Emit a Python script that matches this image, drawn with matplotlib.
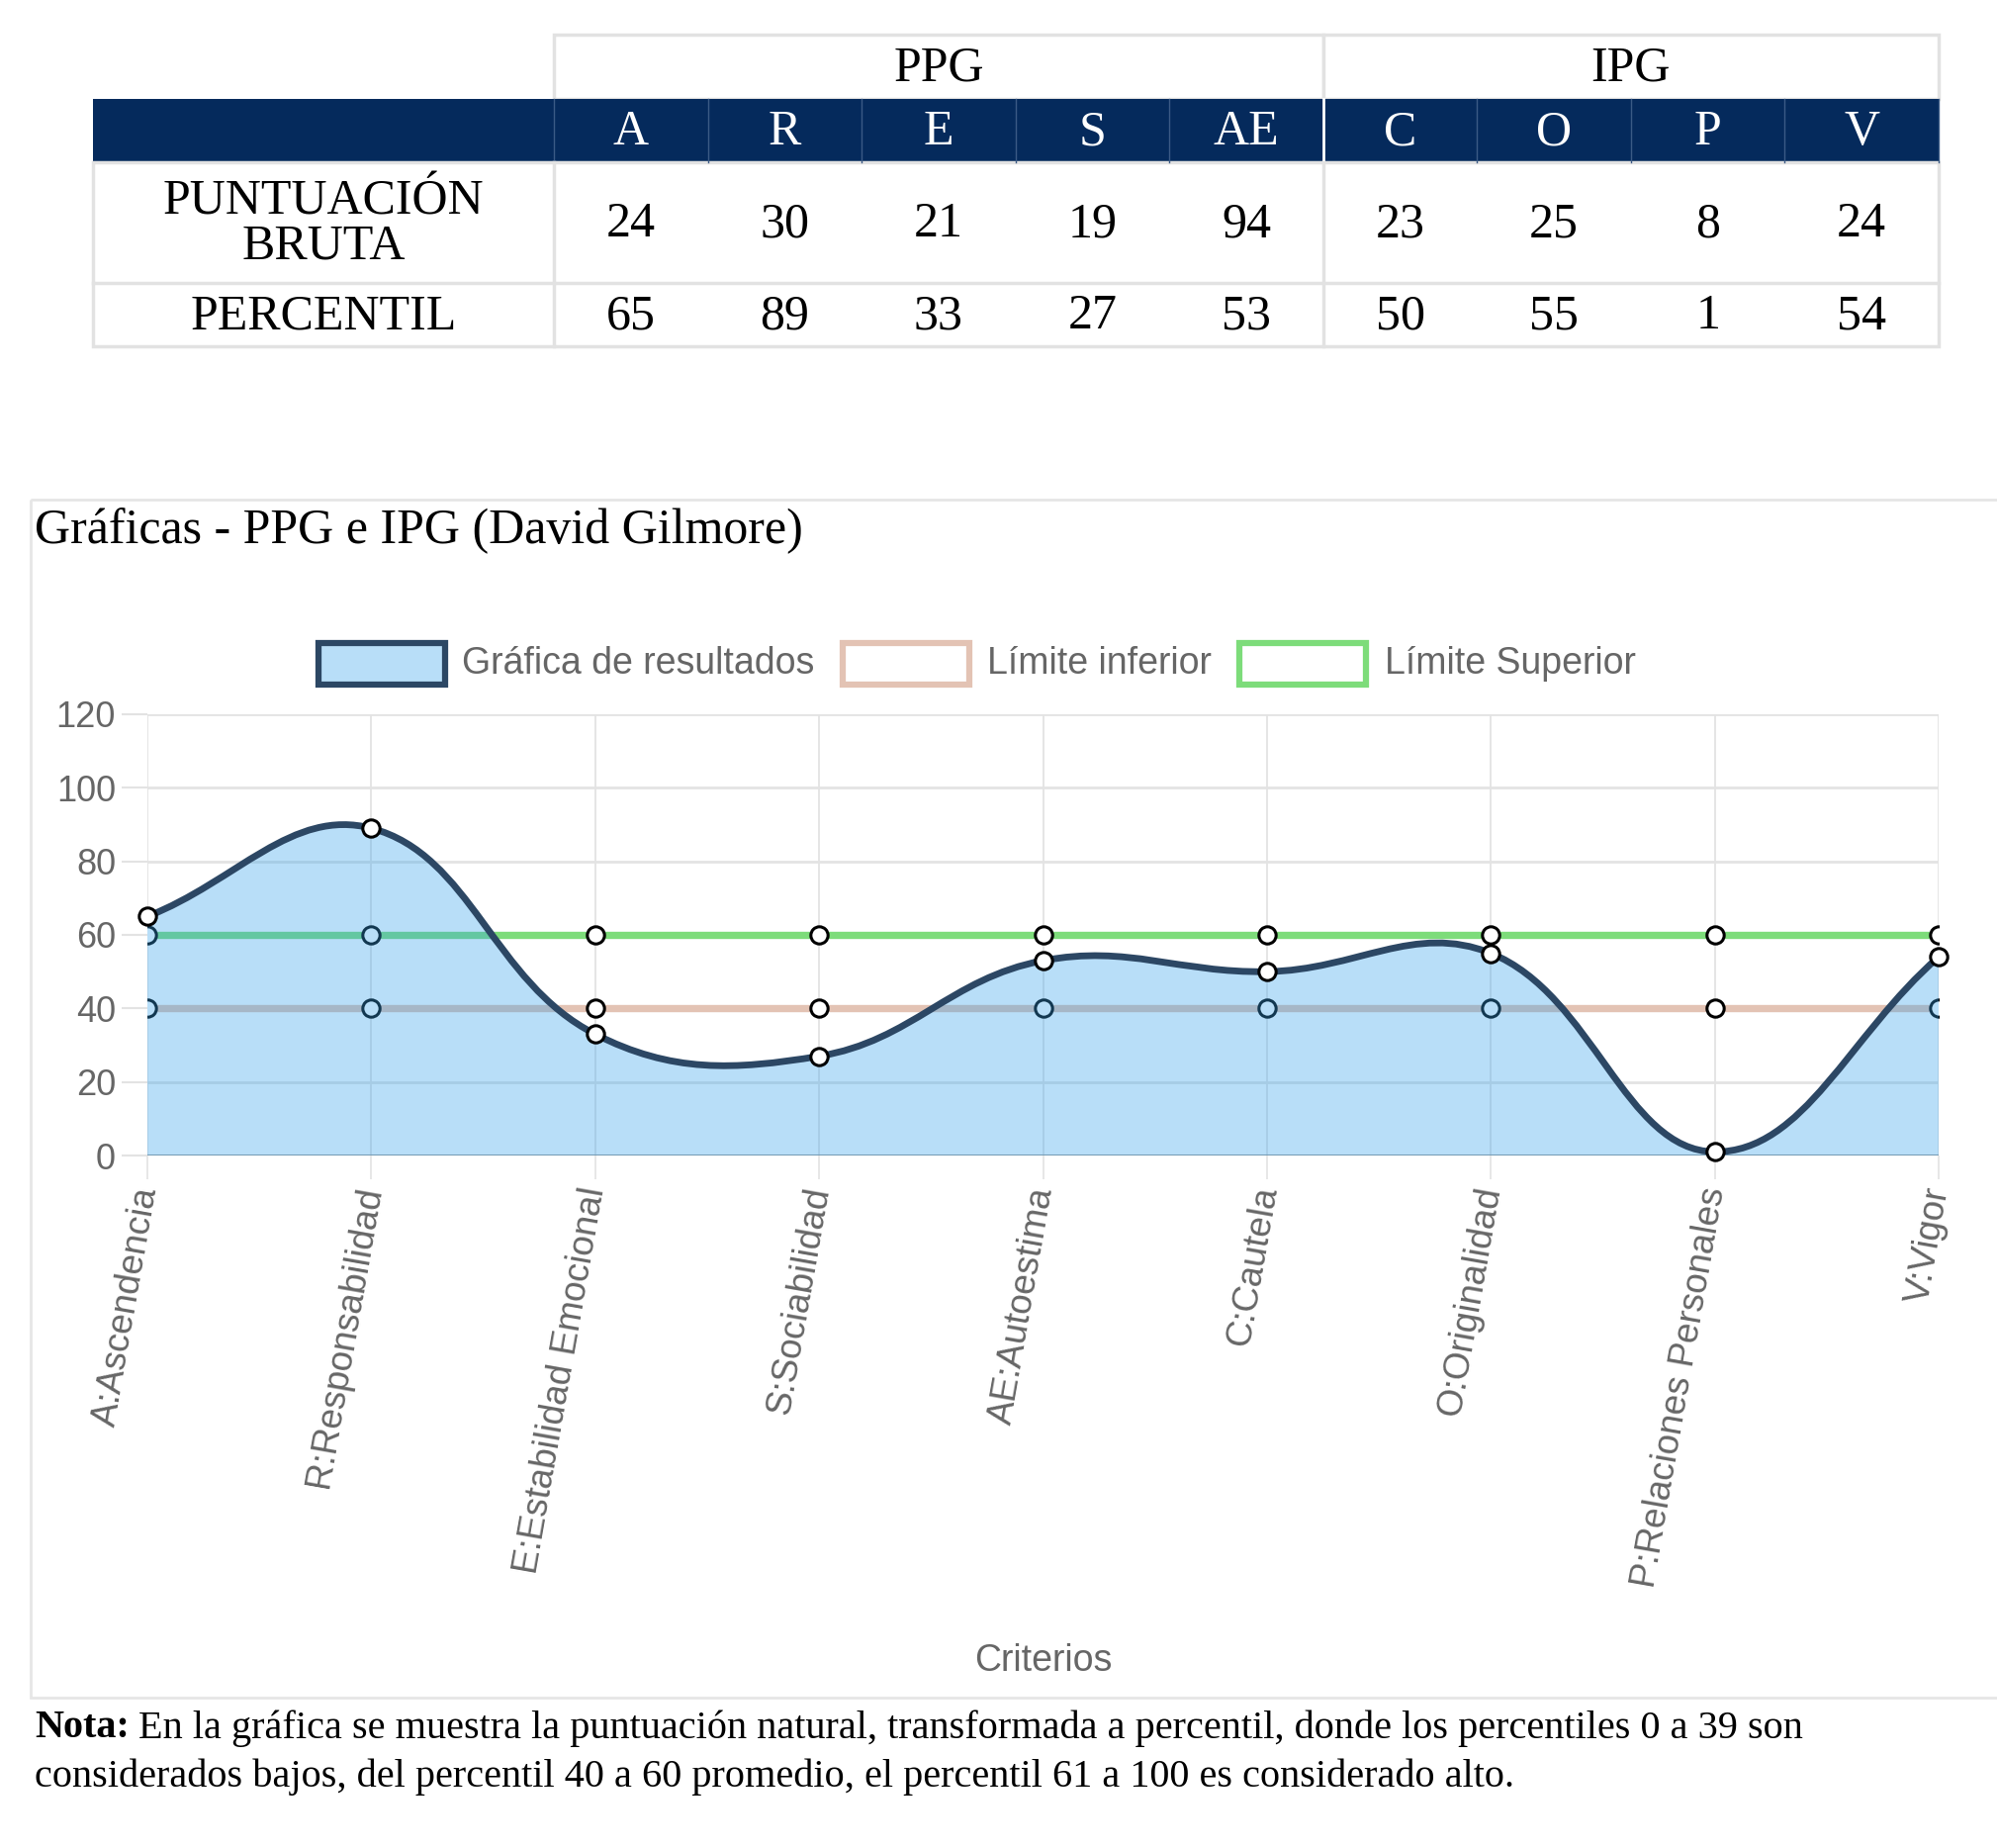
import numpy as np
import matplotlib
matplotlib.use("Agg")
import matplotlib.pyplot as plt
from matplotlib.path import Path
from matplotlib.patches import PathPatch, Rectangle

W, H = 2019, 1868

# --- table data ---
groups = ["PPG", "IPG"]
group_sizes = [5, 4]
scales = ["A", "R", "E", "S", "AE", "C", "O", "P", "V"]
row_names = ["PUNTUACIÓN\nBRUTA", "PERCENTIL"]
raw_scores = [24, 30, 21, 19, 94, 23, 25, 8, 24]
percentiles = [65, 89, 33, 27, 53, 50, 55, 1, 54]

# --- chart data ---
criterios = ["A:Ascendencia", "R:Responsabilidad", "E:Estabilidad Emocional",
             "S:Sociabilidad", "AE:Autoestima", "C:Cautela", "O:Originalidad",
             "P:Relaciones Personales", "V:Vigor"]
resultados = [65, 89, 33, 27, 53, 50, 55, 1, 54]
limite_inferior = [40, 40, 40, 40, 40, 40, 40, 40, 40]
limite_superior = [60, 60, 60, 60, 60, 60, 60, 60, 60]
series_names = ["Gráfica de resultados", "Límite inferior", "Límite Superior"]
y_ticks = [0, 20, 40, 60, 80, 100, 120]

SERIF = "Liberation Serif"
SANS = "Liberation Sans"
NAVY = "#052a5c"
GRID = "#e3e3e3"
TXT = "#666666"
LINE = "#2c4764"
FILL = (54 / 255, 162 / 255, 235 / 255, 0.35)
GREEN = "#7ddc7a"
BEIGE = "#e3c3b4"


def spline_verts(ax, xs, ys, t=0.4):
    # chart.js style bezier control points, computed in pixel space
    pts = ax.transData.transform(np.column_stack([xs, ys]))
    n = len(pts)
    cps = []
    for i in range(n):
        prev = pts[max(i - 1, 0)]
        cur = pts[i]
        nxt = pts[min(i + 1, n - 1)]
        d01 = np.hypot(*(cur - prev))
        d12 = np.hypot(*(nxt - cur))
        tot = d01 + d12
        s01 = d01 / tot if tot else 0
        s12 = d12 / tot if tot else 0
        cps.append((cur - t * s01 * (nxt - prev), cur + t * s12 * (nxt - prev)))
    verts = [pts[0]]
    codes = [Path.MOVETO]
    for i in range(1, n):
        verts += [cps[i - 1][1], cps[i][0], pts[i]]
        codes += [Path.CURVE4] * 3
    verts = ax.transData.inverted().transform(np.array(verts))
    return verts, codes


fig = plt.figure(figsize=(W / 100, H / 100), dpi=100)
bg = fig.add_axes([0, 0, 1, 1])
bg.set_xlim(0, W)
bg.set_ylim(H, 0)
bg.axis("off")

# ---------------- table ----------------
x0, x1, x_end = 94, 560, 1960
cw = (x_end - x1) / len(scales)
ry = [35, 100, 164, 286, 350]
border = "#e2e2e2"
TFS = 36

gx = x1
for g, n in zip(groups, group_sizes):
    bg.add_patch(Rectangle((gx, ry[0]), n * cw, ry[1] - ry[0], fc="white", ec=border, lw=2.5))
    bg.text(gx + n * cw / 2, (ry[0] + ry[1]) / 2 + 2, g, family=SERIF, fontsize=TFS,
            ha="center", va="center")
    gx += n * cw

bg.add_patch(Rectangle((x0, ry[1]), x_end - x0, ry[2] - ry[1], fc=NAVY, ec="none"))
for i in range(len(scales) + 1):
    xx = x1 + i * cw
    if i == group_sizes[0]:
        bg.plot([xx, xx], [ry[1], ry[2]], color="white", lw=2)
    else:
        bg.plot([xx, xx], [ry[1], ry[2]], color="#3b5a85", lw=1)
for i, s in enumerate(scales):
    bg.text(x1 + (i + 0.5) * cw, (ry[1] + ry[2]) / 2 + 2, s, family=SERIF, fontsize=TFS,
            color="white", ha="center", va="center")

bg.add_patch(Rectangle((x0, ry[2]), x_end - x0, ry[4] - ry[2], fc="none", ec=border, lw=2.5))
bg.plot([x0, x_end], [ry[3], ry[3]], color=border, lw=2.5)
for xx in [x1, x1 + group_sizes[0] * cw]:
    bg.plot([xx, xx], [ry[2], ry[4]], color=border, lw=2.5)

for r, (name, vals) in enumerate(zip(row_names, [raw_scores, percentiles])):
    yc = (ry[2 + r] + ry[3 + r]) / 2 + 2
    bg.text((x0 + x1) / 2, yc, name, family=SERIF, fontsize=TFS, ha="center", va="center",
            linespacing=0.95)
    for i, v in enumerate(vals):
        bg.text(x1 + (i + 0.5) * cw, yc, str(v), family=SERIF, fontsize=TFS,
                ha="center", va="center")

# ---------------- chart ----------------
bg.add_patch(Rectangle((31, 505), W, 1716 - 505, fc="none", ec="#e6e6e6", lw=2))
bg.text(35, 537, "Gráficas - PPG e IPG (David Gilmore)", family=SERIF, fontsize=36,
        ha="left", va="center")

# legend
leg_boxes = [(322, 467, FILL, LINE), (852, 998, "white", BEIGE), (1253, 1400, "white", GREEN)]
for (bx, tx, fc, ec), name in zip(leg_boxes, series_names):
    if fc == FILL:
        bg.add_patch(Rectangle((bx, 650), 128, 42, fc="white", ec="none"))
    bg.add_patch(Rectangle((bx, 650), 128, 42, fc=fc, ec=ec, lw=4.5))
    bg.text(tx, 671, name, family=SANS, fontsize=27, color=TXT, ha="left", va="center")

left, right, top, bottom = 149, 1960, 722, 1168
ax = fig.add_axes([left / W, 1 - bottom / H, (right - left) / W, (bottom - top) / H])
ax.set_xlim(0, len(criterios) - 1)
ax.set_ylim(0, 120)
ax.patch.set_alpha(0)
for sp in ax.spines.values():
    sp.set_visible(False)

xs = np.arange(len(criterios))
ax.set_yticks(y_ticks)
ax.set_xticks(xs)
ax.set_xticklabels(criterios, rotation=80, ha="right", va="center", rotation_mode="anchor",
                   family=SANS, fontsize=26.5, color=TXT)
for lab in ax.get_yticklabels():
    lab.set_family(SANS)
    lab.set_fontsize(26)
    lab.set_color(TXT)
ax.tick_params(axis="y", length=19, width=1.5, color=GRID, pad=4)
ax.tick_params(axis="x", length=17, width=1.2, color=GRID, pad=6)
ax.grid(axis="y", color=GRID, lw=2, zorder=0)
ax.grid(axis="x", color="#e0e0e0", lw=1.2, zorder=0)
ax.set_axisbelow(True)
ax.axhline(0, color="#999999", lw=2.2, zorder=1.5)

ax.set_xlabel("Criterios", family=SANS, fontsize=27, color=TXT)
ax.xaxis.set_label_coords(0.5, (bottom - 1661) / (bottom - top))

mk = dict(marker="o", ms=12.5, mfc="white", mec="black", mew=2.2, ls="none")
ax.plot(xs, limite_superior, color=GREEN, lw=5.3, zorder=2)
ax.plot(xs, limite_superior, zorder=2.1, **mk)
ax.plot(xs, limite_inferior, color=BEIGE, lw=5.3, zorder=2.2)
ax.plot(xs, limite_inferior, zorder=2.3, **mk)

verts, codes = spline_verts(ax, xs, resultados)
fill_verts = np.vstack([verts, [[xs[-1], 0], [xs[0], 0], [xs[0], 0]]])
fill_codes = codes + [Path.LINETO, Path.LINETO, Path.CLOSEPOLY]
ax.add_patch(PathPatch(Path(fill_verts, fill_codes), fc=FILL, ec="none", zorder=3))
ax.add_patch(PathPatch(Path(verts, codes), fc="none", ec=LINE, lw=4.9, zorder=4,
                       capstyle="round", joinstyle="round"))
ax.plot(xs, resultados, zorder=5, clip_on=False, **mk)

# ---------------- note ----------------
NFS = 29
nota = bg.text(35, 1747, "Nota:", family=SERIF, fontsize=NFS, fontweight="bold",
               ha="left", va="center")
fig.canvas.draw()
bb = nota.get_window_extent(fig.canvas.get_renderer())
bg.text(35 + bb.width + 9, 1747,
        "En la gráfica se muestra la puntuación natural, transformada a percentil, donde los percentiles 0 a 39 son",
        family=SERIF, fontsize=NFS, ha="left", va="center")
bg.text(35, 1796,
        "considerados bajos, del percentil 40 a 60 promedio, el percentil 61 a 100 es considerado alto.",
        family=SERIF, fontsize=NFS, ha="left", va="center")

fig.savefig("out.png", dpi=100)
